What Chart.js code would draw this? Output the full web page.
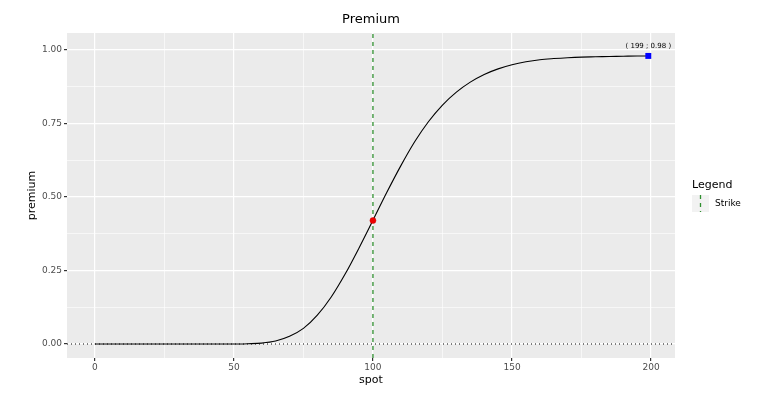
<!DOCTYPE html>
<html>
<head>
<meta charset="utf-8">
<script src="https://cdn.jsdelivr.net/npm/chart.js@4/dist/chart.umd.min.js"></script>
<style>
  html, body { margin: 0; padding: 0; background: #ffffff; }
  #wrap { width: 774px; height: 400px; }
</style>
</head>
<body>
<div id="wrap"><canvas id="chart" width="774" height="400"></canvas></div>
<script>
// spot grid and premium
const spots = [0, 5, 10, 15, 20, 25, 30, 35, 40, 45, 50, 55, 60, 65, 70, 75, 80, 85, 90, 95,
  100, 105, 110, 115, 120, 125, 130, 135, 140, 145, 150, 155, 160, 165, 170, 175, 180, 185, 190, 195, 199];
const premiums = [0, 0, 0, 0, 0, 0, 0, 0, 0, 0, 0, 0.001, 0.003, 0.010, 0.026, 0.053, 0.098, 0.160, 0.238, 0.327,
  0.421, 0.516, 0.606, 0.688, 0.757, 0.813, 0.857, 0.891, 0.917, 0.936, 0.950, 0.960, 0.967, 0.971, 0.974, 0.976,
  0.977, 0.978, 0.979, 0.980, 0.980];

const strike = 100;
const strikePremium = 0.42;
const lastSpot = 199;
const lastPremium = 0.98;

const xMajor = [0, 50, 100, 150, 200];
const xMinor = [25, 75, 125, 175];
const yMajor = [0, 0.25, 0.5, 0.75, 1];
const yMinor = [0.125, 0.375, 0.625, 0.875];

const xLimits = [-10, 208.6];
const yLimits = [-0.0476, 1.058];

const FONT = "'DejaVu Sans', sans-serif";
const GREEN = "#2f8f2f";

const panelBg = {
  id: "panelBg",
  beforeDraw(chart) {
    const { ctx, chartArea: a } = chart;
    ctx.save();
    ctx.fillStyle = "#ebebeb";
    ctx.fillRect(a.left, a.top, a.right - a.left, a.bottom - a.top);
    ctx.restore();
  }
};

const extras = {
  id: "extras",
  afterDraw(chart) {
    const { ctx } = chart;
    const xs = chart.scales.x, ys = chart.scales.y;

    // point label
    ctx.save();
    ctx.font = "7px " + FONT;
    ctx.fillStyle = "#000000";
    ctx.textAlign = "center";
    ctx.textBaseline = "middle";
    ctx.fillText("( " + lastSpot + " ; " + lastPremium.toFixed(2) + " )",
      xs.getPixelForValue(lastSpot), ys.getPixelForValue(lastPremium) - 9.5);

    // legend
    ctx.textAlign = "left";
    ctx.font = "11px " + FONT;
    ctx.fillText("Legend", 692, 185);
    ctx.fillStyle = "#f2f2f2";
    ctx.fillRect(692, 195, 17, 17);
    ctx.strokeStyle = GREEN;
    ctx.lineWidth = 1.3;
    ctx.setLineDash([4, 4]);
    ctx.beginPath();
    ctx.moveTo(700.5, 195);
    ctx.lineTo(700.5, 212);
    ctx.stroke();
    ctx.setLineDash([]);
    ctx.fillStyle = "#000000";
    ctx.font = "9px " + FONT;
    ctx.fillText("Strike", 715, 204);
    ctx.restore();
  }
};

const isMajorX = v => xMajor.includes(v);
const isMajorY = v => yMajor.some(t => Math.abs(t - v) < 1e-9);

new Chart(document.getElementById("chart"), {
  type: "line",
  data: {
    datasets: [
      {
        label: "last",
        type: "scatter",
        data: [{ x: lastSpot, y: lastPremium }],
        backgroundColor: "#0000ff",
        borderColor: "#0000ff",
        borderWidth: 0,
        pointRadius: 4.2,
        pointStyle: "rect",
        order: 0
      },
      {
        label: "atStrike",
        type: "scatter",
        data: [{ x: strike, y: strikePremium }],
        backgroundColor: "#ee0000",
        borderColor: "#cc0000",
        borderWidth: 0.5,
        pointRadius: 3,
        order: 0
      },
      {
        label: "Strike",
        data: [{ x: strike, y: yLimits[0] }, { x: strike, y: yLimits[1] }],
        borderColor: GREEN,
        borderWidth: 1.3,
        borderDash: [4, 4],
        pointRadius: 0,
        order: 1
      },
      {
        label: "premium",
        data: spots.map((s, i) => ({ x: s, y: premiums[i] })),
        borderColor: "#000000",
        borderWidth: 1.1,
        pointRadius: 0,
        cubicInterpolationMode: "monotone",
        order: 2
      },
      {
        label: "zero",
        data: [{ x: xLimits[0], y: 0 }, { x: xLimits[1], y: 0 }],
        borderColor: "#000000",
        borderWidth: 1,
        borderDash: [1, 3],
        pointRadius: 0,
        order: 3
      }
    ]
  },
  options: {
    responsive: false,
    animation: false,
    layout: { padding: { left: 0, right: 99, top: 0, bottom: 0 } },
    plugins: {
      legend: { display: false },
      tooltip: { enabled: false },
      title: {
        display: true,
        text: "Premium",
        fullSize: false,
        color: "#000000",
        font: { family: FONT, size: 13, weight: "normal" },
        padding: { top: 12, bottom: 5.4 }
      }
    },
    scales: {
      x: {
        type: "linear",
        min: xLimits[0],
        max: xLimits[1],
        afterBuildTicks: s => { s.ticks = xMajor.concat(xMinor).sort((a, b) => a - b).map(v => ({ value: v })); },
        afterFit: s => { s.height = 42; },
        border: { display: false },
        grid: {
          color: "#ffffff",
          lineWidth: c => (isMajorX(c.tick.value) ? 1.2 : 0.6),
          tickColor: c => (isMajorX(c.tick.value) ? "#333333" : "rgba(0,0,0,0)"),
          tickLength: 3,
          drawOnChartArea: true
        },
        ticks: {
          color: "#4d4d4d",
          font: { family: FONT, size: 9 },
          padding: 1,
          maxRotation: 0,
          autoSkip: false,
          callback: v => (isMajorX(v) ? String(v) : "")
        },
        title: {
          display: true,
          text: "spot",
          color: "#000000",
          font: { family: FONT, size: 11 },
          padding: { top: 13, bottom: 13 }
        }
      },
      y: {
        type: "linear",
        min: yLimits[0],
        max: yLimits[1],
        afterBuildTicks: s => { s.ticks = yMajor.concat(yMinor).sort((a, b) => a - b).map(v => ({ value: v })); },
        afterFit: s => { s.width = 67; },
        border: { display: false },
        grid: {
          color: "#ffffff",
          lineWidth: c => (isMajorY(c.tick.value) ? 1.2 : 0.6),
          tickColor: c => (isMajorY(c.tick.value) ? "#333333" : "rgba(0,0,0,0)"),
          tickLength: 3
        },
        ticks: {
          color: "#4d4d4d",
          font: { family: FONT, size: 9 },
          padding: 2,
          autoSkip: false,
          callback: v => (isMajorY(v) ? v.toFixed(2) : "")
        },
        title: {
          display: true,
          text: "premium",
          color: "#000000",
          font: { family: FONT, size: 11 },
          padding: { top: 26, bottom: 0 }
        }
      }
    }
  },
  plugins: [panelBg, extras]
});
</script>
</body>
</html>
